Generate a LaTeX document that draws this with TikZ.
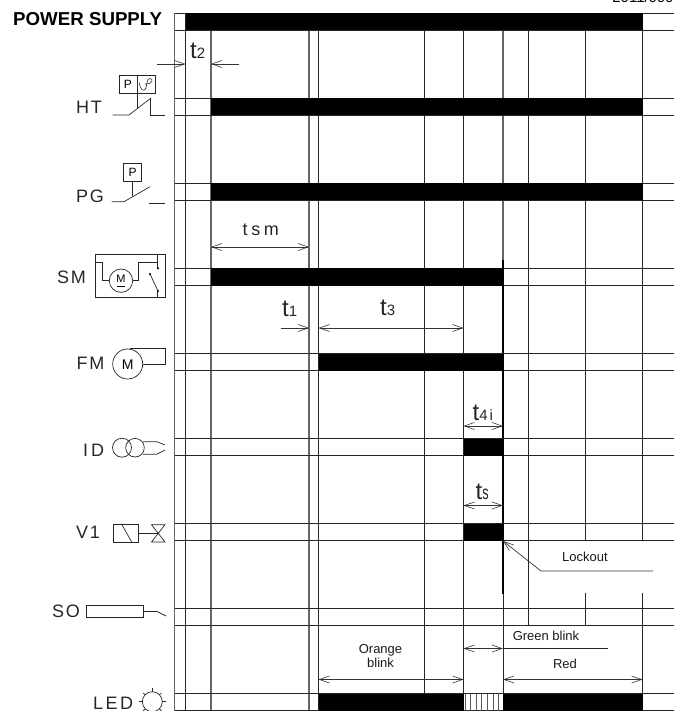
\documentclass[tikz,border=0pt]{standalone}
\usepackage{fontspec}
\setmainfont{Liberation Sans}
\usetikzlibrary{arrows.meta}
\tikzset{
  px/.style={x=1pt,y=-1pt},
  grid/.style={line width=0.9pt,black!85},
  gridg/.style={line width=1.1pt,black!60},
  rowline/.style={line width=0.8pt,black!85},
  bar/.style={fill=black,draw=none},
  sym/.style={line width=0.7pt,black!85},
  dim/.style={line width=0.7pt,black!80,{Straight Barb[length=10pt,width=7pt,line width=0.6pt]}-{Straight Barb[length=10pt,width=7pt,line width=0.6pt]}},
  dimr/.style={line width=0.7pt,black!80,-{Straight Barb[length=10pt,width=7pt,line width=0.6pt]}},
  lab/.style={inner sep=0pt,font=\fontsize{18}{18}\selectfont,anchor=base west,black!85},
  tm/.style={inner sep=0pt,anchor=base west,black!85},
  small/.style={inner sep=0pt,font=\fontsize{13}{14}\selectfont,black!90,align=center},
}
\newcommand{\spc}[2][10]{\addfontfeature{LetterSpace=#1}#2}
\newcommand{\tlabel}[1]{{\fontsize{24}{24}\selectfont t}{\fontsize{15}{15}\selectfont\addfontfeature{LetterSpace=12}#1}}
\begin{document}
\begin{tikzpicture}[px]
\useasboundingbox (0,0) rectangle (674,711);
\clip (0,0) rectangle (674,711);
% vertical lines
\draw[gridg] (174.5,13) -- (174.5,711);
\draw[grid]  (185.5,13) -- (185.5,711);
\draw[gridg] (211,30) -- (211,711);
\draw[gridg] (309,30) -- (309,711);
\draw[grid]  (318.5,30) -- (318.5,711);
\draw[grid]  (424,30) -- (424,693.5);
\draw[grid]  (463.5,30) -- (463.5,693.5);
\draw[gridg] (503,30) -- (503,260);
\draw[line width=1.1pt,black] (503,260) -- (503,594);
\draw[grid]  (503,594) -- (503,693.5);
\draw[grid]  (528.5,30) -- (528.5,625.5);
\draw[grid]  (585.5,30) -- (585.5,540.5);
\draw[grid]  (585.5,593) -- (585.5,625.5);
\draw[grid]  (642.5,30) -- (642.5,540.5);
\draw[grid]  (642.5,593) -- (642.5,693.5);
% rows
\foreach \y in {13,98,183,268,353.5,438.5,523.5,608.5,693.5}{
  \draw[rowline] (174.5,\y) -- (674,\y);
  \draw[rowline] (174.5,\y+17) -- (674,\y+17);
}
% bars
\fill[bar] (185.5,13) rectangle (642.5,30.5);
\fill[bar] (211,98) rectangle (642.5,115.5);
\fill[bar] (211,183) rectangle (642.5,200.5);
\fill[bar] (211,268) rectangle (503.5,285.5);
\fill[bar] (318.5,353.5) rectangle (503.5,371);
\fill[bar] (463.5,438.5) rectangle (503.5,456);
\fill[bar] (463.5,523.5) rectangle (503.5,541);
\fill[bar] (318.5,693.5) rectangle (463.5,711);
\fill[bar] (503,693.5) rectangle (642.5,711);
\foreach \x in {465,470,476,481.7,487.7,493.3,498.3}{
  \draw[line width=1pt,black!65] (\x,693.5) -- (\x,711);
}
% top-right clipped code
\node[inner sep=0pt,anchor=base east,font=\fontsize{15}{15}\selectfont] at (674,2.5) {2011/999};
% labels
\node[inner sep=0pt,anchor=base west,font=\bfseries\fontsize{18.7}{19}\selectfont] (lps) at (13,26) {POWER SUPPLY};
\node[lab] (lht) at (76,114) {\spc{HT}};
\node[lab] (lpg) at (76,202.5) {\spc{PG}};
\node[lab] (lsm) at (57,283) {\spc{SM}};
\node[lab] (lfm) at (76.5,369) {\spc{FM}};
\node[lab] (lid) at (83,456) {\spc[16]{ID}};
\node[lab] (lv) at (76,538.5) {\spc{V1}};
\node[lab] (lso) at (52,617.5) {\spc{SO}};
\node[lab] (lled) at (93,709.3) {\spc[14]{LED}};
% time labels
\node[tm] (t2) at (190,59) {\tlabel{2}};
\node[tm] (tsm) at (242.5,235) {\fontsize{18}{18}\selectfont\spc[20]{tsm}};
\node[tm] (t1) at (282,316) {\tlabel{1}};
\node[tm] (t3) at (380,315.5) {\tlabel{3}};
\node[tm] (t4) at (472.5,420) {\tlabel{4i}};
\node[tm] (ts) at (475.5,499) {{\fontsize{24}{24}\selectfont t}\scalebox{0.75}[1.15]{\fontsize{17}{17}\selectfont s}};
% dimension arrows
\coordinate (t2a) at (157,64); \coordinate (t2b) at (185.5,64);
\coordinate (t2c) at (239,64); \coordinate (t2d) at (211,64);
\draw[dimr] (t2a) -- (t2b);
\draw[dimr] (t2c) -- (t2d);
\coordinate (sma) at (211,247); \coordinate (smb) at (309,247);
\draw[dim] (sma) -- (smb);
\coordinate (t1a) at (281,328); \coordinate (t1b) at (309,328);
\draw[dimr] (t1a) -- (t1b);
\coordinate (t3a) at (318.5,328); \coordinate (t3b) at (463.5,328);
\draw[dim] (t3a) -- (t3b);
\coordinate (t4a) at (463.5,426); \coordinate (t4b) at (503,426);
\draw[dim] (t4a) -- (t4b);
\coordinate (tsa) at (463.5,505.5); \coordinate (tsb) at (503,505.5);
\draw[dim,line width=1pt] (tsa) -- (tsb);
\coordinate (la) at (653,571); \coordinate (lb) at (541,571); \coordinate (lc) at (503,541);
\draw[dimr] (la) -- (lb) -- (lc);
\node[small] (lockout) at (585,557) {Lockout};
\node[small] (green) at (546,635.5) {Green blink};
\coordinate (ga) at (463.5,648.5); \coordinate (gb) at (503,648.5); \coordinate (gc) at (608,648.5);
\draw[dim] (ga) -- (gb);
\draw[sym] (gb) -- (gc);
\node[small] (red) at (565,664) {Red};
\coordinate (ra) at (503,679.5); \coordinate (rb) at (642.5,679.5);
\draw[dim] (ra) -- (rb);
\node[small] (orange) at (380.5,656.5) {Orange\\blink};
\coordinate (oa) at (318.5,679.5); \coordinate (ob) at (463.5,679.5);
\draw[dim] (oa) -- (ob);
% HT symbol
\draw[sym] (119.3,75.7) rectangle (155,93);
\draw[sym] (137.5,75.7) -- (137.5,108);
\draw[sym] (112.5,115) -- (129,115) -- (151,98);
\draw[sym] (150.5,98) -- (150.5,115) -- (165,115);
\node[inner sep=0pt,font=\fontsize{12}{12}\selectfont] at (128,84.5) {P};
\draw[sym,line width=0.6pt] (139.5,83) .. controls (140,90) and (144,92.5) .. (146,88) .. controls (147,83) and (147,79) .. (150,78.5) .. controls (153.5,78.5) and (153,84.5) .. (145,84);
% PG symbol
\draw[sym] (123.3,163.3) rectangle (141.7,181);
\draw[sym] (132.7,181) -- (132.7,196);
\draw[sym] (111.7,201.7) -- (124,201.7) -- (150,186.7);
\draw[sym] (149,203) -- (165,203);
\node[inner sep=0pt,font=\fontsize{12}{12}\selectfont] at (132.7,172) {P};
% SM symbol
\draw[sym] (95,254) rectangle (165.3,297.3);
\draw[sym] (95,262.7) -- (102.7,262.7) -- (102.7,280.7) -- (109.3,280.7);
\draw[sym] (132.7,280.7) -- (138.3,280.7) -- (138.3,262.7) -- (157.7,262.7);
\draw[sym] (157.7,254) -- (157.7,268.3);
\draw[sym] (157.7,291) -- (157.7,297.3);
\draw[sym] (150,274) -- (158,291);
\fill (158,268.3) circle (1.2);
\fill (158,291) circle (1.2);
\fill (150,274) circle (1.2);
\draw[sym] (121,280.7) circle (11.7);
\node[inner sep=0pt,font=\fontsize{11}{11}\selectfont] (smm) at (121,278.7) {M};
\draw[line width=0.5pt] (117,286.7) -- (125,286.7);
% FM symbol
\draw[sym] (127.7,364) circle (15);
\draw[sym] (130,348.8) -- (165.3,348.8) -- (165.3,364) -- (142.7,364);
\node[inner sep=0pt,font=\fontsize{14}{14}\selectfont] (fmm) at (127.7,364.5) {M};
% ID symbol
\draw[sym] (122,447.7) circle (9.5);
\draw[sym] (135,447.7) circle (9.3);
\draw[sym] (143,441.7) -- (156.7,441.7) -- (165,445);
\draw[sym] (143,454.3) -- (156.7,454.3) -- (165,450);
% V1 symbol
\draw[sym] (113,524.3) rectangle (138.5,542);
\draw[sym] (121.7,524.3) -- (131.7,542);
\draw[sym] (138.5,533.5) -- (158,533.5);
\draw[sym] (151.5,524.7) -- (165,524.7) -- (151.5,542) -- (165,542) -- cycle;
% SO symbol
\draw[sym] (86,605.7) rectangle (143.3,617);
\draw[sym] (143.3,611.5) -- (157,611.5) -- (166,616);
% LED symbol
\draw[sym] (152.3,701.7) circle (10);
\draw[sym] (152.3,688) -- (152.3,691.7);
\draw[sym] (139,701.7) -- (142.3,701.7);
\draw[sym] (162.3,701.7) -- (165.5,701.7);
\draw[sym] (143,693) -- (145.2,694.6);
\draw[sym] (161.5,693) -- (159.4,694.6);
\draw[sym] (143,711) -- (145.2,708.8);
\draw[sym] (161.5,711) -- (159.4,708.8);
\end{tikzpicture}
\end{document}
